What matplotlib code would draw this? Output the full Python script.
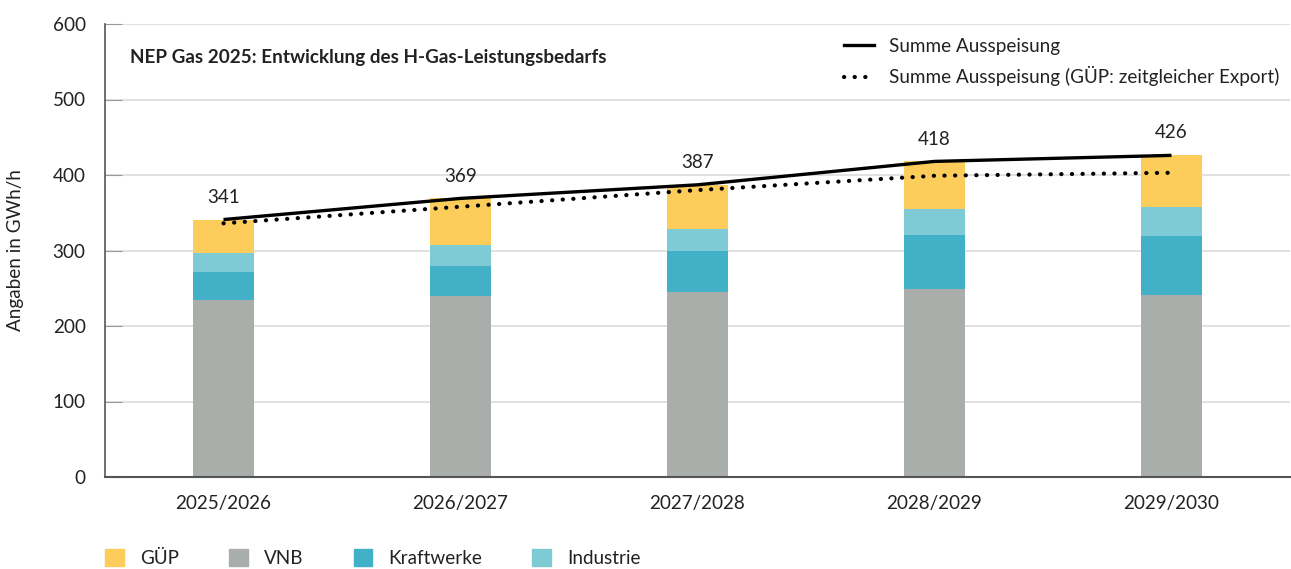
import matplotlib
matplotlib.use("Agg")
import matplotlib.pyplot as plt
from matplotlib.patches import Patch
from matplotlib.lines import Line2D
import numpy as np

plt.rcParams['font.family'] = ['Lato', 'DejaVu Sans']
FS = 13.6

categories = ["2025/2026", "2026/2027", "2027/2028", "2028/2029", "2029/2030"]
vnb = [234, 240, 245, 249, 241]
kraftwerke = [37, 40, 54, 71, 78]
industrie = [26, 27, 30, 35, 39]
guep = [44, 62, 58, 63, 68]
totals = [341, 369, 387, 418, 426]
summe_export = [336, 358, 380, 399, 403]

c_guep = "#FDCD5C"
c_vnb = "#A9AEAA"
c_kraft = "#42B0C6"
c_ind = "#7ECAD5"

fig = plt.figure(figsize=(12.91, 5.69), dpi=100)
ax = fig.add_axes([105/1291, 1-477/569, 1185/1291, (477-24)/569])

x = np.arange(len(categories))
w = 0.255
b1 = np.array(vnb)
b2 = b1 + np.array(kraftwerke)
b3 = b2 + np.array(industrie)
ax.bar(x, vnb, w, color=c_vnb, zorder=2)
ax.bar(x, kraftwerke, w, bottom=b1, color=c_kraft, zorder=2)
ax.bar(x, industrie, w, bottom=b2, color=c_ind, zorder=2)
ax.bar(x, guep, w, bottom=b3, color=c_guep, zorder=2)

ax.plot(x, totals, color="black", lw=2.4, zorder=3, solid_capstyle="butt")
ax.plot(x, summe_export, color="black", lw=3.0, linestyle=(0, (0.05, 2.5)),
        dash_capstyle="round", zorder=3)

for xi, t in zip(x, totals):
    ax.annotate(str(t), (xi, t), xytext=(0, 10), textcoords="offset points",
                ha="center", va="bottom", fontsize=FS, color="#222222")

ax.set_xlim(-0.5, 4.5)
ax.set_ylim(0, 600)
ax.set_yticks([0, 100, 200, 300, 400, 500, 600])
ax.set_xticks(x)
ax.set_xticklabels(categories)
ax.grid(axis="y", color="#dcdcdc", lw=1.2, zorder=0)
ax.set_axisbelow(True)
for s in ["top", "right"]:
    ax.spines[s].set_visible(False)
ax.spines["left"].set_color("#555555")
ax.spines["bottom"].set_color("#555555")
ax.spines["left"].set_linewidth(1.2)
ax.spines["bottom"].set_linewidth(1.5)
ax.tick_params(axis="y", direction="in", length=12, color="#999999", pad=14,
               labelsize=FS, labelcolor="#222222")
ax.tick_params(axis="x", length=0, pad=13, labelsize=FS, labelcolor="#222222")
ax.set_ylabel("Angaben in GWh/h", fontsize=FS, color="#222222")
ax.yaxis.set_label_coords(-0.068, 0.5)

ax.text(130/1291, 1-58/569, "NEP Gas 2025: Entwicklung des H-Gas-Leistungsbedarfs",
        transform=fig.transFigure, fontsize=FS, fontweight="bold",
        ha="left", va="center", color="#222222")

lh = [Line2D([], [], color="black", lw=2.4),
      Line2D([], [], color="black", lw=3.0, linestyle=(0, (0.05, 2.5)), dash_capstyle="round")]
fig.legend(lh, ["Summe Ausspeisung", "Summe Ausspeisung (GÜP: zeitgleicher Export)"],
           loc="upper left", bbox_to_anchor=(827/1291, 1-21/569), frameon=False,
           fontsize=FS, handlelength=1.6, labelspacing=0.6, handletextpad=0.8,
           labelcolor="#222222")

ph = [Patch(color=c_guep), Patch(color=c_vnb), Patch(color=c_kraft), Patch(color=c_ind)]
fig.legend(ph, ["GÜP", "VNB", "Kraftwerke", "Industrie"], loc="center left",
           bbox_to_anchor=(88/1291, 1-558/569), ncol=4, frameon=False,
           fontsize=FS, handlelength=1.0, handleheight=1.0, handletextpad=0.85,
           columnspacing=2.65, labelcolor="#222222")

fig.savefig("out.png", dpi=100)
